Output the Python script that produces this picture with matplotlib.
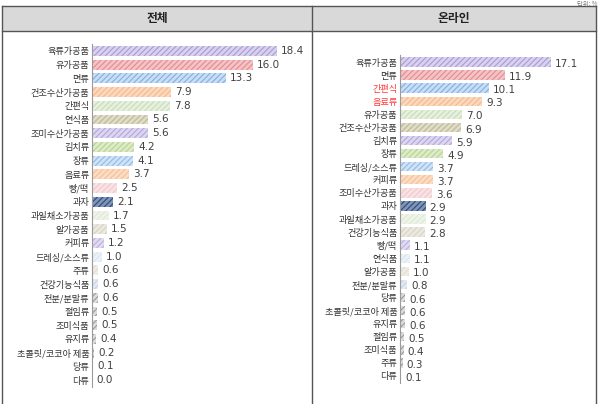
import matplotlib
matplotlib.use("Agg")
import matplotlib.pyplot as plt
from matplotlib.lines import Line2D
from matplotlib.patches import Rectangle

plt.rcParams['font.family'] = ['Noto Sans CJK KR', 'DejaVu Sans']
plt.rcParams['hatch.linewidth'] = 0.8

# ---- data ----
total_labels = ["육류가공품", "유가공품", "면류", "건조수산가공품", "간편식", "연식품", "조미수산가공품",
                "김치류", "장류", "음료류", "빵/떡", "과자", "과일채소가공품", "알가공품", "커피류",
                "드레싱/소스류", "주류", "건강기능식품", "전분/분말류", "절임류", "조미식품", "유지류",
                "초콜릿/코코아 제품", "당류", "다류"]
total_values = [18.4, 16.0, 13.3, 7.9, 7.8, 5.6, 5.6, 4.2, 4.1, 3.7, 2.5, 2.1, 1.7, 1.5, 1.2,
                1.0, 0.6, 0.6, 0.6, 0.5, 0.5, 0.4, 0.2, 0.1, 0.0]

online_labels = ["육류가공품", "면류", "간편식", "음료류", "유가공품", "건조수산가공품", "김치류", "장류",
                 "드레싱/소스류", "커피류", "조미수산가공품", "과자", "과일채소가공품", "건강기능식품",
                 "빵/떡", "연식품", "알가공품", "전분/분말류", "당류", "초콜릿/코코아 제품", "유지류",
                 "절임류", "조미식품", "주류", "다류"]
online_values = [17.1, 11.9, 10.1, 9.3, 7.0, 6.9, 5.9, 4.9, 3.7, 3.7, 3.6, 2.9, 2.9, 2.8,
                 1.1, 1.1, 1.0, 0.8, 0.6, 0.6, 0.6, 0.5, 0.4, 0.3, 0.1]
online_highlight = ["간편식", "음료류"]

panel_titles = ["전체", "온라인"]
unit_text = "단위: %"

# ---- style (hatch colour, fill colour) by rank ----
styles = [
    ("#a99ad6", "#d9d2ef"),  # purple
    ("#e58a8f", "#f4c3c6"),  # red
    ("#7fb0e3", "#c9def5"),  # blue
    ("#f7b889", "#fbd9bf"),  # orange
    ("#cadcba", "#e6f0de"),  # light green
    ("#bdb894", "#dfdcc8"),  # khaki
    ("#b3a6dc", "#ddd6f1"),  # purple
    ("#b8d38f", "#dcebc8"),  # green
    ("#8fbbe8", "#d0e3f6"),  # blue
    ("#f7bf92", "#fbddc6"),  # orange
    ("#f2c9cc", "#f8e2e4"),  # pink
    ("#2e4a78", "#7f95b8"),  # navy
    ("#dfe9d6", "#eef4e9"),  # very light green
    ("#d8d4c4", "#ebe9e0"),  # beige
    ("#bcb1df", "#e0daf2"),  # lavender
    ("#d6e6f3", "#ebf3f9"),  # very light blue
    ("#e2ded0", "#efede6"),  # light beige
    ("#c9d4e6", "#e3eaf4"),  # light blue-gray
]
gray = ("#9a9a9a", "#dcdcdc")

W, H = 601, 404
fig = plt.figure(figsize=(W / 100, H / 100), dpi=100)


def px_axes(x0, y0, x1, y1):
    return fig.add_axes([x0 / W, 1 - y1 / H, (x1 - x0) / W, (y1 - y0) / H])


# ---- table frame ----
frame_color = "#555555"
fig.add_artist(Rectangle((2 / W, 1 - 31 / H), (596 - 2) / W, 25 / H,
                         transform=fig.transFigure, facecolor="#d9d9d9",
                         edgecolor="none", zorder=0))
for y in (6, 31):
    fig.add_artist(Line2D([2 / W, 596 / W], [1 - y / H, 1 - y / H],
                          transform=fig.transFigure, color=frame_color, lw=1.0))
for x in (2, 312, 596):
    fig.add_artist(Line2D([x / W, x / W], [1 - 6 / H, 0], transform=fig.transFigure,
                          color=frame_color, lw=1.0))
fig.text(157 / W, 1 - 18.5 / H, panel_titles[0], ha="center", va="center",
         fontsize=8.5, fontweight="bold", color="#222222")
fig.text(454 / W, 1 - 18.5 / H, panel_titles[1], ha="center", va="center",
         fontsize=8.5, fontweight="bold", color="#222222")
fig.text(597 / W, 1 - 0.5 / H, unit_text, ha="right", va="top", fontsize=4.5,
         color="#777777")


def draw_panel(ax, labels, values, px_per_unit, width_px, highlight=(), dy=0.0):
    n = len(values)
    ys = list(range(n))
    for i, (v, y) in enumerate(zip(values, ys)):
        hc, fc = styles[i] if i < len(styles) else gray
        ax.barh(y, v, height=0.72, color=fc, edgecolor=hc, linewidth=0,
                hatch="//////", zorder=2)
        ax.annotate(f"{v:.1f}", xy=(v, y), xytext=(3, dy), textcoords="offset points",
                    ha="left", va="center", fontsize=7.5, color="#404040",
                    family=["DejaVu Sans"])
    ax.set_ylim(n - 0.5, -0.5)
    ax.set_xlim(0, width_px / px_per_unit)
    ax.set_yticks(ys)
    ax.set_yticklabels(labels, fontsize=6.6)
    for lab in ax.get_yticklabels():
        lab.set_color("#ff3b3b" if lab.get_text() in highlight else "#333333")
    ax.tick_params(axis="y", length=0, pad=2)
    ax.set_xticks([])
    for s in ("top", "right", "bottom"):
        ax.spines[s].set_visible(False)
    ax.spines["left"].set_color("#9a9a9a")
    ax.spines["left"].set_linewidth(0.8)
    ax.patch.set_alpha(0)


ax1 = px_axes(92, 44, 300, 387)
draw_panel(ax1, total_labels, total_values, 10.05, 208)

ax2 = px_axes(400, 55.5, 590, 382.5)
draw_panel(ax2, online_labels, online_values, 8.81, 190, online_highlight, dy=-1.5)

fig.savefig("out.png", dpi=100)
